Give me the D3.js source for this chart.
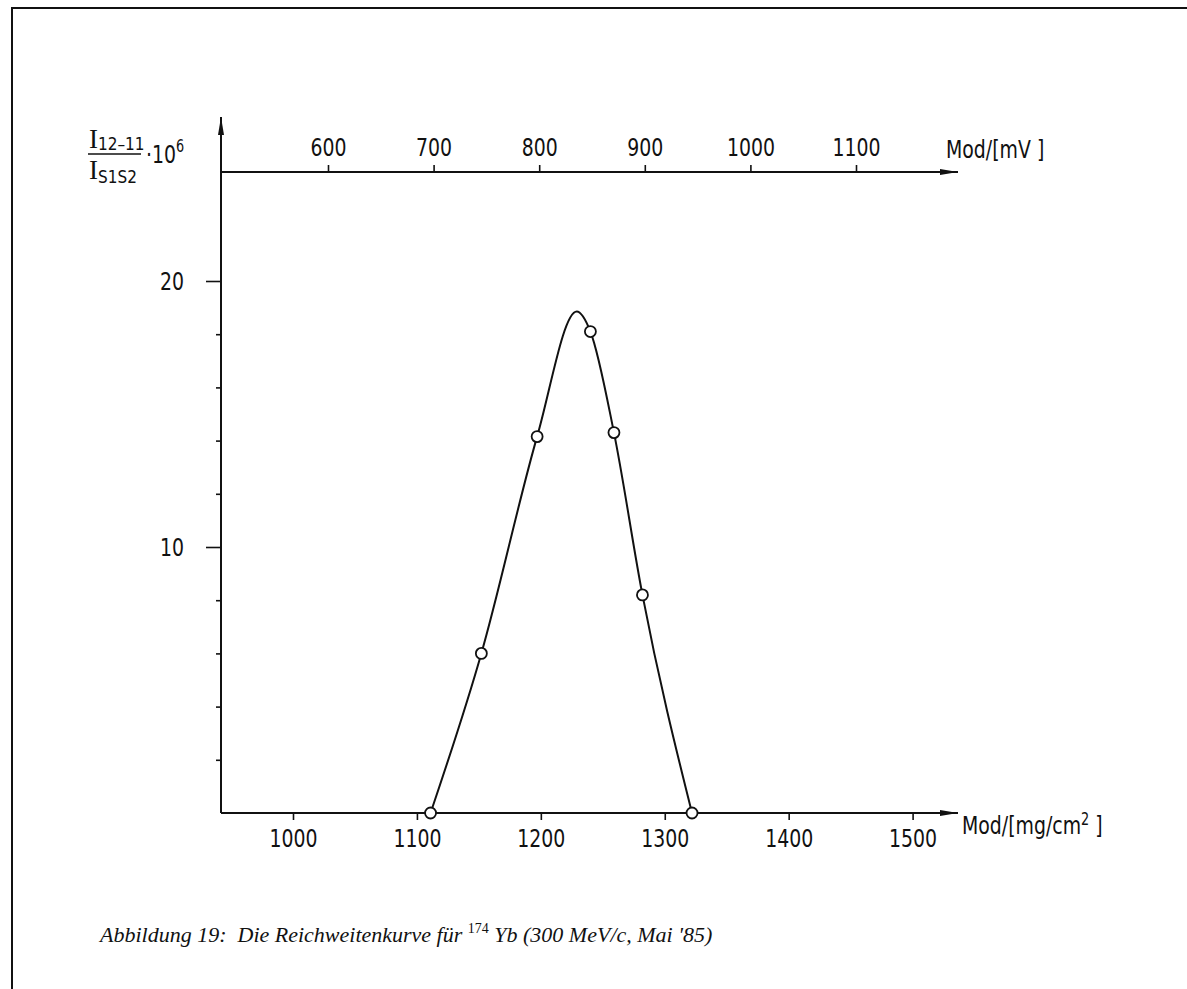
<!DOCTYPE html>
<html>
<head>
<meta charset="utf-8">
<script src="https://cdn.jsdelivr.net/npm/d3@7"></script>
<style>
  body { margin: 0; background: #fff; }
</style>
</head>
<body>
<div id="chart"></div>
<script>
// values
const modBottomTicks = [1000, 1100, 1200, 1300, 1400, 1500];
const modTopTicks = [600, 700, 800, 900, 1000, 1100];
const yMajorTicks = [10, 20];
const yMinorTicks = [2, 4, 6, 8, 12, 14, 16, 18];
const pointMod = [1111, 1152, 1197, 1240, 1259, 1282, 1322];
const pointRatio = [0, 6.0, 14.15, 18.1, 14.3, 8.2, 0];
// hand drawn curve: the measured points plus the drawn maximum
const curveMod = [1111, 1152, 1197, 1229, 1240, 1259, 1282, 1322];
const curveRatio = [0, 6.0, 14.15, 18.85, 18.1, 14.3, 8.2, 0];

function drawChart() {
    let W = 1187, H = 989;
    let axisX = 221, bottomY = 813, topY = 172, arrowEnd = 958, yTop = 117;
    const font = "'DejaVu Sans Condensed', 'DejaVu Sans', sans-serif";
    const narrow = "scale(0.84,1)";

    const svg = d3.select("#chart")
        .append("svg")
        .attr("width", W)
        .attr("height", H);

    let xScale = d3.scaleLinear().domain([1000, 1500]).range([293, 912.6]);
    let xTopScale = d3.scaleLinear().domain([600, 1100]).range([328, 856]);
    let yScale = d3.scaleLinear().domain([0, 20]).range([bottomY, 281]);

    // page frame (top and left edge)
    svg.append("path")
        .attr("d", `M12,${H} L12,8 L${W},8`)
        .attr("fill", "none")
        .attr("stroke", "#111")
        .attr("stroke-width", 2);

    // axis lines with long thin arrow heads
    let arrow = (x1, y1, x2, y2) => {
        svg.append("line")
            .attr("x1", x1).attr("y1", y1).attr("x2", x2).attr("y2", y2)
            .attr("stroke", "#111").attr("stroke-width", 2);
        let a = Math.atan2(y2 - y1, x2 - x1), L = 18, w = 3;
        let bx = x2 - L * Math.cos(a), by = y2 - L * Math.sin(a);
        svg.append("path")
            .attr("d", `M${x2},${y2} L${bx - w * Math.sin(a)},${by + w * Math.cos(a)} L${bx + w * Math.sin(a)},${by - w * Math.cos(a)} Z`)
            .attr("fill", "#111");
    };
    arrow(axisX, bottomY, axisX, yTop);
    arrow(axisX, bottomY, arrowEnd, bottomY);
    arrow(axisX, topY, arrowEnd, topY);

    // bottom axis (mg/cm2)
    let gB = svg.append("g")
        .attr("transform", `translate(0,${bottomY})`)
        .call(d3.axisBottom(xScale).tickValues(modBottomTicks).tickSize(7).tickPadding(9).tickFormat(d3.format("d")));
    gB.select(".domain").remove();
    gB.selectAll("line").attr("stroke", "#111").attr("stroke-width", 1.6);
    gB.selectAll("text").attr("font-family", font).attr("font-size", "25px").attr("fill", "#111").attr("transform", narrow);

    // top axis (mV)
    let gT = svg.append("g")
        .attr("transform", `translate(0,${topY})`)
        .call(d3.axisTop(xTopScale).tickValues(modTopTicks).tickSize(7).tickPadding(9).tickFormat(d3.format("d")));
    gT.select(".domain").remove();
    gT.selectAll("line").attr("stroke", "#111").attr("stroke-width", 1.6);
    gT.selectAll("text").attr("font-family", font).attr("font-size", "25px").attr("fill", "#111").attr("transform", narrow);

    // y axis: labelled ticks at 10 and 20, short ticks in between
    let gY = svg.append("g")
        .attr("transform", `translate(${axisX},0)`)
        .call(d3.axisLeft(yScale).tickValues(yMajorTicks).tickSize(15).tickPadding(29));
    gY.select(".domain").remove();
    gY.selectAll("line").attr("stroke", "#111").attr("stroke-width", 1.6);
    gY.selectAll("text").attr("font-family", font).attr("font-size", "25px").attr("fill", "#111").attr("transform", narrow);
    let gYm = svg.append("g")
        .attr("transform", `translate(${axisX},0)`)
        .call(d3.axisLeft(yScale).tickValues(yMinorTicks).tickSize(5).tickFormat(""));
    gYm.select(".domain").remove();
    gYm.selectAll("line").attr("stroke", "#111").attr("stroke-width", 1.6);

    // axis titles
    svg.append("text")
        .attr("transform", `translate(946,158) ${narrow}`)
        .attr("font-family", font).attr("font-size", "25px").attr("fill", "#111")
        .text("Mod/[mV ]");
    let t = svg.append("text")
        .attr("transform", `translate(962,834) ${narrow}`)
        .attr("font-family", font).attr("font-size", "25px").attr("fill", "#111");
    t.append("tspan").text("Mod/[mg/cm");
    t.append("tspan").attr("dy", -9).attr("font-size", "17px").text("2");
    t.append("tspan").attr("dy", 9).text(" ]");

    // y title: I(12-11) / I(S1S2) * 10^6
    let serif = "'Liberation Serif', 'DejaVu Serif', serif";
    let num = svg.append("text").attr("x", 89).attr("y", 148).attr("fill", "#111");
    num.append("tspan").attr("font-family", serif).attr("font-size", "27px").text("I");
    num.append("tspan").attr("font-family", font).attr("font-size", "17px").attr("dy", 2).text("12\u201311");
    svg.append("line")
        .attr("x1", 88).attr("x2", 141).attr("y1", 154).attr("y2", 154)
        .attr("stroke", "#111").attr("stroke-width", 1.6);
    let den = svg.append("text").attr("x", 89).attr("y", 179).attr("fill", "#111");
    den.append("tspan").attr("font-family", serif).attr("font-size", "27px").text("I");
    den.append("tspan").attr("font-family", font).attr("font-size", "17px").attr("dy", 4).text("S1S2");
    let pw = svg.append("text")
        .attr("transform", `translate(146,163) ${narrow}`)
        .attr("font-family", font).attr("fill", "#111");
    pw.append("tspan").attr("font-size", "25px").text("\u00b710");
    pw.append("tspan").attr("font-size", "17px").attr("dy", -11).text("6");

    // curve
    let line = d3.line()
        .x((d, i) => xScale(curveMod[i]))
        .y((d, i) => yScale(curveRatio[i]))
        .curve(d3.curveMonotoneX);
    svg.append("path")
        .datum(curveMod)
        .attr("d", line)
        .attr("fill", "none")
        .attr("stroke", "#111")
        .attr("stroke-width", 2);

    // measured points
    svg.selectAll("circle.pt")
        .data(pointMod)
        .enter()
        .append("circle")
        .attr("class", "pt")
        .attr("cx", (d) => xScale(d))
        .attr("cy", (d, i) => yScale(pointRatio[i]))
        .attr("r", 5.5)
        .attr("fill", "white")
        .attr("stroke", "#111")
        .attr("stroke-width", 1.8);

    // caption
    let cap = svg.append("text")
        .attr("x", 100).attr("y", 942)
        .attr("xml:space", "preserve")
        .attr("font-family", serif)
        .attr("font-style", "italic")
        .attr("font-size", "22px")
        .attr("fill", "#111");
    cap.append("tspan").text("Abbildung 19:  Die Reichweitenkurve f\u00fcr ");
    cap.append("tspan").attr("font-size", "14px").attr("dy", -9).attr("font-style", "normal").text("174");
    cap.append("tspan").attr("dy", 9).text(" Yb (300 MeV/c, Mai '85)");
}
drawChart();
</script>
</body>
</html>
